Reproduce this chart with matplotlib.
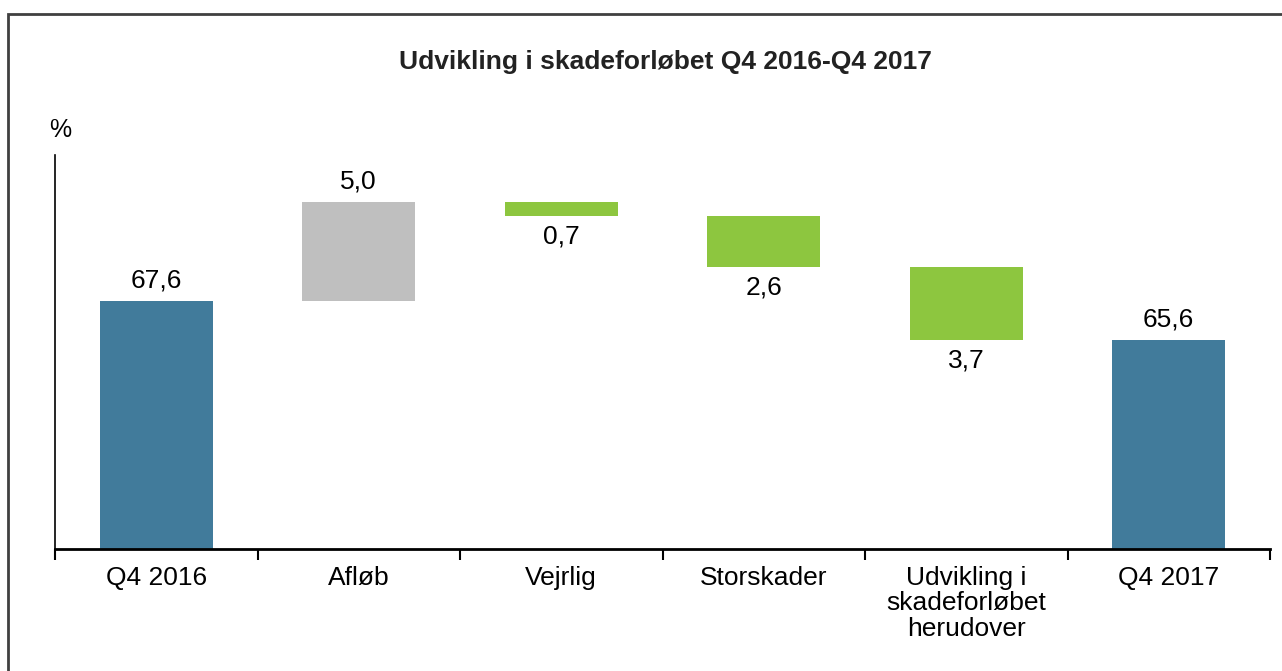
import matplotlib.pyplot as plt
from matplotlib.patches import Rectangle

plt.rcParams["font.family"] = ["Liberation Sans", "DejaVu Sans"]

# data
categories = ["Q4 2016", "Afløb", "Vejrlig", "Storskader",
              "Udvikling i\nskadeforløbet\nherudover", "Q4 2017"]
start_value = 67.6
changes = [5.0, -0.7, -2.6, -3.7]
end_value = 65.6
labels = ["67,6", "5,0", "0,7", "2,6", "3,7", "65,6"]

BLUE = "#417b9b"
GRAY = "#bfbfbf"
GREEN = "#8dc63f"
Y_MIN, Y_MAX = 55, 75
FS = 19

fig = plt.figure(figsize=(12.82, 6.71), dpi=100)
ax = fig.add_axes([55 / 1282, 1 - 549 / 671, 1215 / 1282, 394 / 671])

width = 0.56


def label_above(x, y, s):
    ax.annotate(s, (x, y), xytext=(0, 6), textcoords="offset points",
                ha="center", va="bottom", fontsize=FS)


def label_below(x, y, s):
    ax.annotate(s, (x, y), xytext=(0, -6), textcoords="offset points",
                ha="center", va="top", fontsize=FS)


# totals
ax.bar(0, start_value - Y_MIN, bottom=Y_MIN, width=width, color=BLUE)
ax.bar(5, end_value - Y_MIN, bottom=Y_MIN, width=width, color=BLUE)
label_above(0, start_value, labels[0])
label_above(5, end_value, labels[5])

# steps
level = start_value
for i, ch in enumerate(changes, start=1):
    low = min(level, level + ch)
    color = GRAY if ch > 0 else GREEN
    ax.bar(i, abs(ch), bottom=low, width=width, color=color)
    if ch > 0:
        label_above(i, level + ch, labels[i])
    else:
        label_below(i, level + ch, labels[i])
    level += ch

ax.set_xlim(-0.5, 5.5)
ax.set_ylim(Y_MIN, Y_MAX)
ax.set_yticks([])
ax.set_xticks([x - 0.5 for x in range(7)])
ax.set_xticklabels([])
ax.set_xticks(range(6), minor=True)
ax.set_xticklabels(categories, minor=True, fontsize=FS, va="top", linespacing=1.08)
ax.tick_params(axis="x", which="minor", length=0, pad=12)
ax.tick_params(axis="x", which="major", length=8, width=1.5, direction="out")
for s in ["top", "right"]:
    ax.spines[s].set_visible(False)
ax.spines["bottom"].set_linewidth(2)
ax.spines["left"].set_linewidth(1.2)

fig.text(665 / 1282, 1 - 62 / 671, "Udvikling i skadeforløbet Q4 2016-Q4 2017",
         ha="center", va="center", fontsize=FS, fontweight="bold", color="#222222")
fig.text(60 / 1282, 1 - 130 / 671, "%", ha="center", va="center", fontsize=18)

# frame around the chart
fig.patches.append(Rectangle((8 / 1282, -0.1), 1.2, 1 - 14 / 671 + 0.1,
                             transform=fig.transFigure, fill=False,
                             edgecolor="#404040", linewidth=2))

fig.savefig("out.png", dpi=100)
